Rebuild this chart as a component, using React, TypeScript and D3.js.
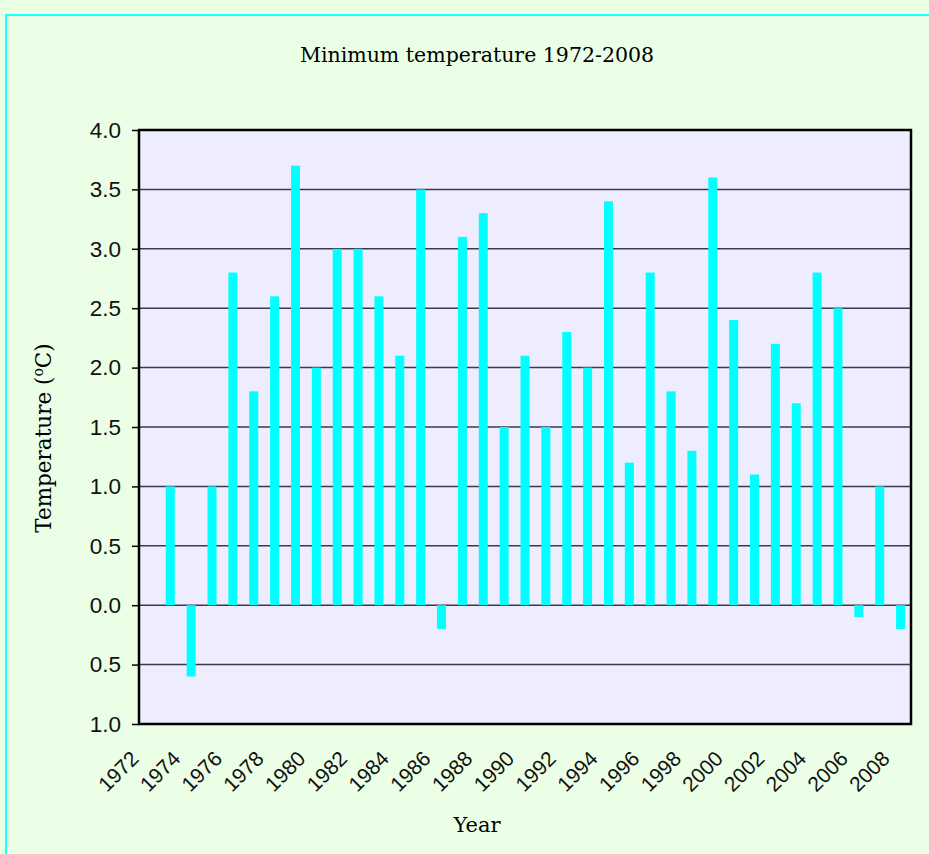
// D3.js — Minimum temperature bar chart (1972-2008)
import React, { useEffect, useRef } from "react";
import * as d3 from "d3";

const years = d3.range(1972, 2009).map(String);
const barYears = d3.range(1973, 2009).map(String);
const minTemps = [
  1.0, -0.6, 1.0, 2.8, 1.8, 2.6, 3.7, 2.0, 3.0, 3.0, 2.6, 2.1, 3.5, -0.2,
  3.1, 3.3, 1.5, 2.1, 1.5, 2.3, 2.0, 3.4, 1.2, 2.8, 1.8, 1.3, 3.6, 2.4,
  1.1, 2.2, 1.7, 2.8, 2.5, -0.1, 1.0, -0.2,
];
const yTicks = [-1, -0.5, 0, 0.5, 1, 1.5, 2, 2.5, 3, 3.5, 4];
const xLabels = years.filter((_, i) => i % 2 === 0);

const App: React.FC = () => {
  const svgRef = useRef<SVGSVGElement>(null);

  useEffect(() => {
    if (!svgRef.current) return;
    document.body.style.margin = "0";

    const W = 929, H = 854;
    const plot = { left: 139, right: 911, top: 130, bottom: 724 };
    const sans = "'Liberation Sans', Arial, sans-serif";
    const serif = "'DejaVu Serif', serif";

    const svg = d3.select(svgRef.current).attr("width", W).attr("height", H);
    svg.selectAll("*").remove();

    // background + cyan frame
    svg.append("rect").attr("width", W).attr("height", H).attr("fill", "#ebffe6");
    svg.append("rect")
      .attr("x", 6).attr("y", 15).attr("width", W + 20).attr("height", H + 20)
      .attr("fill", "none").attr("stroke", "#22ffff").attr("stroke-width", 2);

    const x = d3.scaleBand().domain(years).range([plot.left, plot.right]).padding(0);
    const y = d3.scaleLinear().domain([-1, 4]).range([plot.bottom, plot.top]);
    const barW = 9;

    // plot area
    svg.append("rect")
      .attr("x", plot.left).attr("y", plot.top)
      .attr("width", plot.right - plot.left).attr("height", plot.bottom - plot.top)
      .attr("fill", "#ededff");

    // grid lines
    svg.append("g")
      .selectAll("line")
      .data(yTicks.filter(t => t > -1 && t < 4))
      .join("line")
      .attr("x1", plot.left).attr("x2", plot.right)
      .attr("y1", d => y(d)).attr("y2", d => y(d))
      .attr("stroke", "#3a3a48").attr("stroke-width", 1.5);

    // bars
    svg.append("g")
      .selectAll("rect")
      .data(barYears.map((yr, i) => ({ yr, v: minTemps[i] })))
      .join("rect")
      .attr("x", d => x(d.yr)! + x.bandwidth() / 2 - barW / 2)
      .attr("y", d => (d.v >= 0 ? y(d.v) : y(0)))
      .attr("width", barW)
      .attr("height", d => Math.abs(y(d.v) - y(0)))
      .attr("fill", "#00ffff");

    // frame
    svg.append("rect")
      .attr("x", plot.left).attr("y", plot.top)
      .attr("width", plot.right - plot.left).attr("height", plot.bottom - plot.top)
      .attr("fill", "none").attr("stroke", "#000").attr("stroke-width", 2.5);

    // y axis ticks + labels
    const yAxis = svg.append("g")
      .attr("transform", `translate(${plot.left},0)`)
      .call(d3.axisLeft(y).tickValues(yTicks).tickSize(7).tickPadding(11)
        .tickFormat(d => Math.abs(+d).toFixed(1)));
    yAxis.attr("font-family", sans);
    yAxis.select(".domain").remove();
    yAxis.selectAll(".tick line").attr("stroke", "#000").attr("stroke-width", 1.5);
    yAxis.selectAll(".tick text")
      .attr("fill", "#111").attr("font-size", 22.5)
      .attr("font-family", sans);

    // x labels, rotated
    svg.append("g")
      .selectAll("text")
      .data(xLabels)
      .join("text")
      .attr("transform", d => `translate(${x(d)! + x.bandwidth() / 2 - 9.5},760) rotate(-45)`)
      .attr("text-anchor", "end")
      .attr("font-size", 21)
      .attr("font-family", sans)
      .attr("fill", "#111")
      .text(d => d);

    // title
    svg.append("text")
      .attr("x", 477).attr("y", 62)
      .attr("text-anchor", "middle")
      .attr("font-family", serif)
      .attr("font-size", 20.5)
      .attr("fill", "#000")
      .text("Minimum temperature 1972-2008");

    // y axis title
    const yt = svg.append("text")
      .attr("transform", "translate(51,438) rotate(-90)")
      .attr("text-anchor", "middle")
      .attr("font-family", serif)
      .attr("font-size", 21.5)
      .attr("fill", "#000");
    yt.append("tspan").text("Temperature (");
    yt.append("tspan").attr("dy", -8).attr("font-size", 14).text("o");
    yt.append("tspan").attr("dy", 8).text("C)");

    // x axis title
    svg.append("text")
      .attr("x", 477).attr("y", 832)
      .attr("text-anchor", "middle")
      .attr("font-family", serif)
      .attr("font-size", 21)
      .attr("fill", "#000")
      .text("Year");
  }, []);

  return <svg ref={svgRef} style={{ display: "block" }} />;
};

export default App;
